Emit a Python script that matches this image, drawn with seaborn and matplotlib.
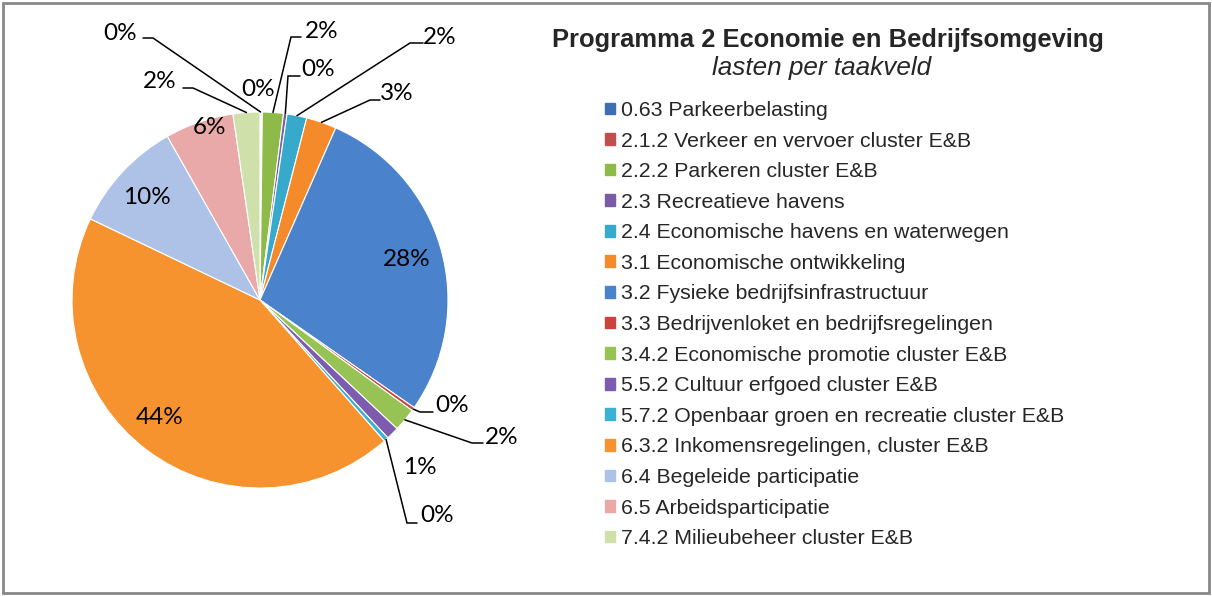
import numpy as np
import seaborn as sns
import matplotlib.pyplot as plt
from matplotlib.patches import Patch, Rectangle

sns.set_style("white")
plt.rcParams['font.family'] = ['Liberation Sans', 'DejaVu Sans']

# data (share in % of lasten)
categories = [
    "0.63 Parkeerbelasting",
    "2.1.2 Verkeer en vervoer cluster E&B",
    "2.2.2 Parkeren cluster E&B",
    "2.3 Recreatieve havens",
    "2.4 Economische havens en waterwegen",
    "3.1 Economische ontwikkeling",
    "3.2 Fysieke bedrijfsinfrastructuur",
    "3.3 Bedrijvenloket en bedrijfsregelingen",
    "3.4.2 Economische promotie cluster E&B",
    "5.5.2 Cultuur erfgoed cluster E&B",
    "5.7.2 Openbaar groen en recreatie cluster E&B",
    "6.3.2 Inkomensregelingen, cluster E&B",
    "6.4 Begeleide participatie",
    "6.5 Arbeidsparticipatie",
    "7.4.2 Milieubeheer cluster E&B",
]
values = [0.1, 0.1, 1.8, 0.3, 1.7, 2.6, 28.1, 0.3, 2.0, 1.1, 0.4, 43.6, 9.7, 5.9, 2.3]

colors = ["#3F6FB0", "#C0504D", "#8DBA48", "#7A5CA6", "#37AACB", "#F58A2A",
          "#4A82CC", "#C9443F", "#96C353", "#7D5BAE", "#3CB2D2", "#F7932F",
          "#ADC2E6", "#E9A9A8", "#CFE0AA"]
pal = sns.color_palette(colors)

# label placement in reference pixels: text centre, and optional leader (elbow, end)
CX, CY, R = 260, 300, 188
label_layout = [
    ((120, 33), ((153, 38), (143, 38))),
    ((258, 90), None),
    ((322, 31), ((291, 37), (301, 37))),
    ((318, 69), ((288, 76), (300, 76))),
    ((440, 38), ((410, 43), (423, 43))),
    ((397, 93), ((370, 100), (380, 100))),
    ((407, 260), None),
    ((452, 405), ((420, 412), (433, 412))),
    ((502, 437), ((472, 443), (483, 443))),
    ((420, 467), None),
    ((437, 516), ((407, 523), (417, 523))),
    ((160, 418), None),
    ((147, 198), None),
    ((209, 127), None),
    ((160, 81), ((193, 88), (183, 88))),
]


def px(x, y):
    return ((x - CX) / R, (CY - y) / R)


W, H = 1212, 596
fig = plt.figure(figsize=(W / 100, H / 100), dpi=100)
ax = fig.add_axes([0, 0, 1, 1])

wedges, _ = ax.pie(values, colors=pal, startangle=90, counterclock=False,
                   radius=1, wedgeprops=dict(edgecolor="white", linewidth=0.8))

total = sum(values)
for w, v, (txt, leader) in zip(wedges, values, label_layout):
    pct = "%d%%" % round(v / total * 100)
    tx, ty = px(*txt)
    ax.text(tx, ty, pct, ha="center", va="center", fontsize=17.5,
            family=["Lato", "DejaVu Sans"], color="black")
    if leader is not None:
        mid = np.deg2rad((w.theta1 + w.theta2) / 2)
        sx, sy = np.cos(mid), np.sin(mid)
        ex, ey = px(*leader[0])
        fx, fy = px(*leader[1])
        ax.plot([sx, ex, fx], [sy, ey, fy], color="black", lw=1.1,
                solid_joinstyle="miter")

ax.set_xlim(-CX / R, (W - CX) / R)
ax.set_ylim(-(H - CY) / R, CY / R)
ax.set_aspect("equal")
ax.axis("off")

# title
fig.text(828 / W, 1 - 40 / H, "Programma 2 Economie en Bedrijfsomgeving",
         ha="center", va="center", fontsize=18.4, fontweight="bold")
fig.text(822 / W, 1 - 68 / H, "lasten per taakveld",
         ha="center", va="center", fontsize=18.8, style="italic")

# legend
handles = [Patch(facecolor=c, edgecolor=c) for c in pal]
fig.legend(handles, categories, loc="upper left",
           bbox_to_anchor=(605 / W, 1 - 101 / H), frameon=False,
           fontsize=15.3, handlelength=0.47, handleheight=0.47,
           handletextpad=0.3, labelspacing=0.545, borderpad=0,
           borderaxespad=0)

# outer chart frame
fig.patches.append(Rectangle((3 / W, 3 / H), 1 - 6 / W, 1 - 6 / H,
                             transform=fig.transFigure, fill=False,
                             edgecolor="#888888", linewidth=2))

fig.savefig("out.png", dpi=100)
